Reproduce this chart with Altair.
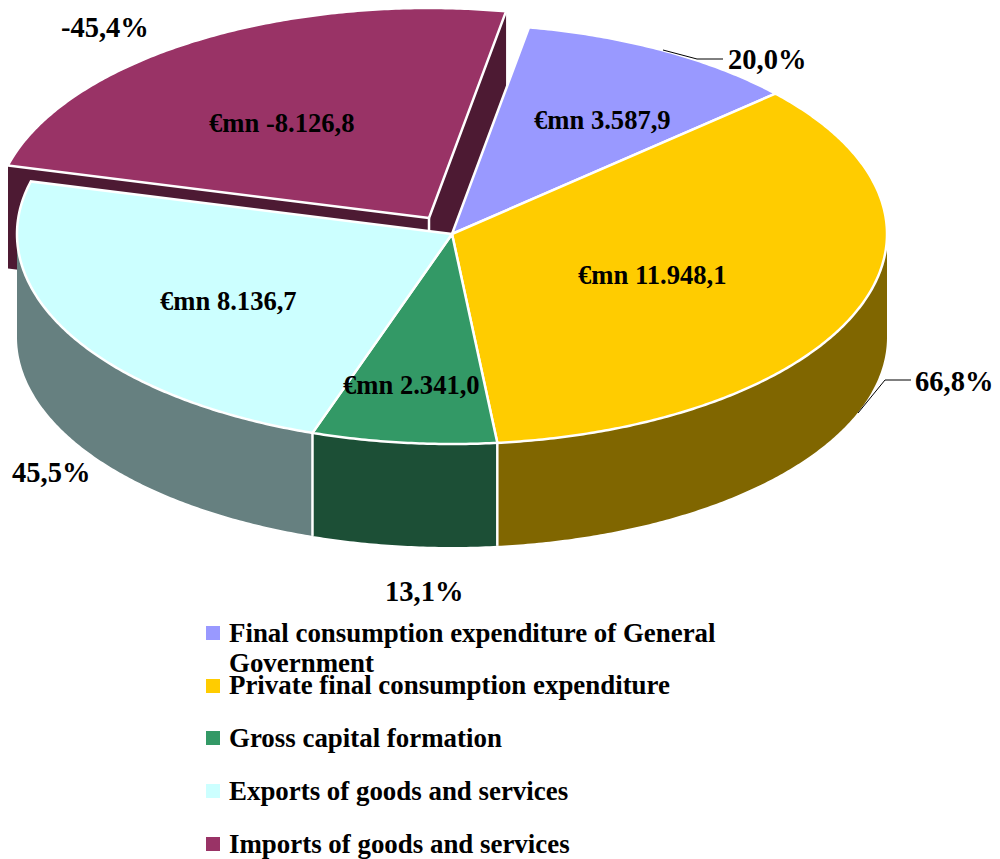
import math
import altair as alt
import pandas as pd

# ---- chart values ----
categories = ["Final consumption expenditure of General Government",
              "Private final consumption expenditure",
              "Gross capital formation",
              "Exports of goods and services",
              "Imports of goods and services"]
values = [3587.9, 11948.1, 2341.0, 8136.7, -8126.8]
value_labels = ["€mn 3.587,9", "€mn 11.948,1", "€mn 2.341,0", "€mn 8.136,7", "€mn -8.126,8"]
pct_labels = ["20,0%", "66,8%", "13,1%", "45,5%", "-45,4%"]

top_colors = ["#9999FF", "#FFCC00", "#339966", "#CCFFFF", "#993366"]
side_colors = ["#4D4D80", "#806600", "#1C4F36", "#668080", "#4D1A33"]

# ---- layout of the tilted pie (picture pixels) ----
CX, CY, RX, RY, DEPTH = 452, 234, 435, 210, 103
START = 10.2
EXPLODE = {4: (-23, -16)}
FONT = "Liberation Serif"

value_pos = [(534, 129), (578, 284), (343, 394), (160, 310), (209, 132)]
pct_pos = [(728, 69), (915, 391), (385, 601), (12, 482), (61, 37)]
legend_y = [633, 686, 738, 791, 844]
legend_base = [642, 694, 747, 800, 853]

total = sum(abs(v) for v in values)
spans, a = [], START
for v in values:
    s = abs(v) / total * 360
    spans.append((a, a + s))
    a += s


def pt(deg, i=None, dz=0):
    ox, oy = EXPLODE.get(i, (0, 0))
    r = math.radians(deg)
    return CX + ox + RX * math.sin(r), CY + oy - RY * math.cos(r) + dz


def apex(i, dz=0):
    ox, oy = EXPLODE.get(i, (0, 0))
    return CX + ox, CY + oy + dz


def arc(a0, a1, i, dz=0):
    n = max(2, int(abs(a1 - a0)) * 2)
    return [pt(a0 + (a1 - a0) * k / n, i, dz) for k in range(n + 1)]


def rows(points, name, color):
    return [{"x": x, "y": y, "o": k, "name": name, "c": color} for k, (x, y) in enumerate(points)]


tops, sides, walls, edges = [], [], [], []
for i, (a0, a1) in enumerate(spans):
    poly = [apex(i)] + arc(a0, a1, i) + [apex(i)]
    tops += rows(poly, f"t{i}", top_colors[i])
    # visible outer rim: front half of the ellipse only
    r0, r1 = max(a0, 90), min(a1, 270)
    if r1 > r0:
        up = arc(r0, r1, i)
        low = arc(r1, r0, i, DEPTH)
        sides += rows(up + low + [up[0]], f"s{i}", side_colors[i])

# inner walls of the pulled-out slice
a0, a1 = spans[4]
walls += rows([apex(4), pt(a0, 4), pt(a0, 4, DEPTH), apex(4, DEPTH), apex(4)], "w0", side_colors[4])
walls += rows([apex(4), pt(a1, 4), pt(a1, 4, DEPTH), apex(4, DEPTH), apex(4)], "w1", side_colors[4])
edges += rows([apex(4), apex(4, DEPTH)], "e0", "white")
edges += rows([pt(spans[1][1]), pt(spans[1][1], None, DEPTH)], "e1", "white")
edges += rows([pt(spans[2][1]), pt(spans[2][1], None, DEPTH)], "e2", "white")

X = alt.Scale(domain=[8, 992], nice=False, zero=False)
Y = alt.Scale(domain=[859, 8], nice=False, zero=False)
x = alt.X("x:Q", scale=X, axis=None)
y = alt.Y("y:Q", scale=Y, axis=None)


def poly_layer(data, **mk):
    return alt.Chart(pd.DataFrame(data)).mark_line(filled=True, interpolate="linear", clip=False, **mk).encode(
        x=x, y=y, order="o:Q", detail="name:N",
        fill=alt.Fill("c:N", scale=None))


walls_l = poly_layer(walls, strokeWidth=0)
sides_l = poly_layer(sides, strokeWidth=0)
edges_l = alt.Chart(pd.DataFrame(edges)).mark_line(color="white", strokeWidth=2.5).encode(
    x=x, y=y, order="o:Q", detail="name:N")
tops_l = poly_layer(tops, stroke="white", strokeWidth=2.5, strokeJoin="miter")

leaders = (rows([(663, 50), (697, 59), (723, 59)], "l0", "k")
           + rows([(858, 413), (885, 380), (911, 380)], "l1", "k"))
leader_l = alt.Chart(pd.DataFrame(leaders)).mark_line(color="black", strokeWidth=1).encode(
    x=x, y=y, order="o:Q", detail="name:N")

val_rows = [{"x": p[0], "y": p[1], "t": t} for p, t in zip(value_pos, value_labels)]
pct_rows = [{"x": p[0], "y": p[1], "t": t} for p, t in zip(pct_pos, pct_labels)]
val_l = alt.Chart(pd.DataFrame(val_rows)).mark_text(
    font=FONT, fontWeight="bold", fontSize=26.6, align="left", baseline="alphabetic", color="black"
).encode(x=x, y=y, text="t:N")
pct_l = alt.Chart(pd.DataFrame(pct_rows)).mark_text(
    font=FONT, fontWeight="bold", fontSize=28.5, align="left", baseline="alphabetic", color="black"
).encode(x=x, y=y, text="t:N")

legend_rows = [{"x": 229, "y": b, "t": t} for b, t in zip(legend_base, [
    "Final consumption expenditure of General", "Private final consumption expenditure",
    "Gross capital formation", "Exports of goods and services", "Imports of goods and services"])]
legend_rows.append({"x": 229, "y": 672, "t": "Government"})
legend_t = alt.Chart(pd.DataFrame(legend_rows)).mark_text(
    font=FONT, fontWeight="bold", fontSize=26.9, align="left", baseline="alphabetic", color="black"
).encode(x=x, y=y, text="t:N")
legend_s = alt.Chart(pd.DataFrame({"x": [213] * 5, "y": legend_y, "c": top_colors, "name": categories})).mark_square(
    size=196, opacity=1, filled=True
).encode(x=x, y=y, fill=alt.Fill("c:N", scale=None), detail="name:N")

chart = alt.layer(walls_l, sides_l, edges_l, tops_l, leader_l, val_l, pct_l, legend_s, legend_t).properties(
    width=984, height=851, padding=0,
    autosize=alt.AutoSizeParams(type="none"),
).configure_view(stroke=None)

chart.save("out.html", embed_options={"renderer": "svg", "actions": False})
